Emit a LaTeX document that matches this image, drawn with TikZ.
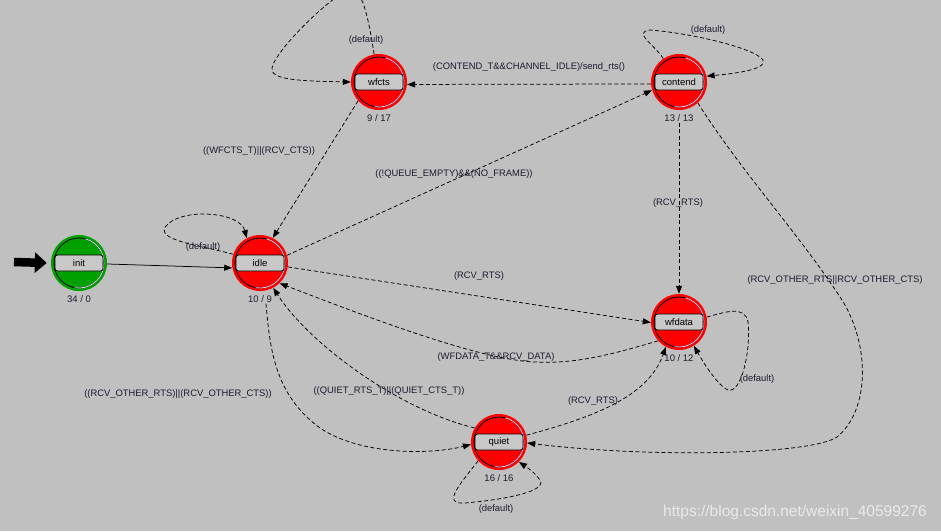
\documentclass[tikz,border=0pt]{standalone}
\usepackage{fontspec}
\setmainfont{Liberation Sans}
\usetikzlibrary{arrows.meta}
\definecolor{bg}{RGB}{192,192,192}
\definecolor{stred}{RGB}{255,0,0}
\definecolor{stgreen}{RGB}{0,160,0}
\definecolor{boxfill}{RGB}{200,200,200}
\definecolor{lbl}{RGB}{28,28,48}
\definecolor{hilite}{RGB}{225,205,245}
\definecolor{wm}{RGB}{234,234,234}
\tikzset{
  state/.style={circle, minimum size=56pt, inner sep=0pt, fill=stred, draw=none},
  namebox/.style={draw=black, line width=0.8pt, rounded corners=2.5pt, fill=boxfill, minimum width=48pt, minimum height=16pt, inner sep=0pt, font=\fontsize{9.5}{11}\selectfont, text=black},
  count/.style={font=\fontsize{9.5}{11}\selectfont, text=lbl, inner sep=1pt},
  trans/.style={draw=black, line width=0.75pt, dash pattern=on 4pt off 2.5pt, -{Triangle[length=8pt,width=6pt]}},
  cond/.style={font=\fontsize{9.4}{11}\selectfont, text=lbl, inner sep=0pt},
}
\newcommand{\drawstate}[5]{%
  \node[state, fill=#3] (#1) at (#2) {};
  \draw[black, line width=0.8pt] (#2) circle[radius=25pt];
  \draw[hilite, line width=0.8pt] ([shift={(-100:25pt)}]#2) arc[start angle=-100, end angle=75, radius=25pt];
  \node[namebox] (#1box) at (#2) {#4};
  \node[count] (#1cnt) at ([yshift=-36pt]#2) {#5};
}
\begin{document}
\begin{tikzpicture}[x=1pt, y=-1pt]
\useasboundingbox (0,0) rectangle (941,531);
\fill[bg] (0,0) rectangle (941,531);
\clip (0,0) rectangle (941,531);

\drawstate{init}{79,263}{stgreen}{init}{34 / 0}
\drawstate{idle}{260,263}{stred}{idle}{10 / 9}
\drawstate{wfcts}{379,82}{stred}{wfcts}{9 / 17}
\drawstate{contend}{679,82}{stred}{contend}{13 / 13}
\drawstate{wfdata}{679,322}{stred}{wfdata}{10 / 12}
\drawstate{quiet}{499,442}{stred}{quiet}{16 / 16}

% initial arrow
\coordinate (entry) at (14,262);
\draw[line width=8.5pt, -{Triangle[length=12pt,width=20pt]}] (entry) -- ([xshift=-4pt]init.west);

% transitions
\draw[trans, solid] (init.-2) -- (idle.190);
\draw[trans] (idle.162) .. controls (200,245) and (150,240) .. (168,224) .. controls (185,208) and (240,212) .. (idle.118);
\draw[trans] (wfcts.100) .. controls (368,15) and (362,-12) .. (350,-10) .. controls (335,-8) and (275,50) .. (272,68) .. controls (270,80) and (300,81) .. (wfcts.180);
\draw[trans] (contend.184) -- (wfcts.-5);
\draw[trans] (contend.124) .. controls (655,45) and (632,32) .. (650,30) .. controls (690,33) and (755,48) .. (763,60) .. controls (768,70) and (730,74) .. (contend.12);
\draw[trans] (wfcts.222) -- (idle.63);
\draw[trans] (idle.16) -- (contend.197);
\draw[trans] (contendcnt.south) -- (wfdata.north);
\draw[trans] (contend.-48) .. controls (740,170) and (800,235) .. (842,300) .. controls (870,345) and (870,410) .. (837,437) .. controls (810,455) and (650,458) .. (quiet.-2);
\draw[trans] (idle.-8) -- (wfdata.181);
\draw[trans] (wfdata.222) .. controls (610,355) and (575,364) .. (535,362) .. controls (480,360) and (370,318) .. (idle.-46);
\draw[trans] (wfdata.10) .. controls (725,312) and (745,305) .. (748,322) .. controls (751,348) and (742,394) .. (728,390) .. controls (718,386) and (703,362) .. (wfdata.-58);
\draw[trans] ([xshift=6pt]idlecnt.south) .. controls (270,350) and (275,395) .. (320,428) .. controls (360,455) and (430,455) .. (quiet.185);
\draw[trans] (quiet.150) .. controls (400,410) and (310,345) .. (idle.-62);
\draw[trans] (quiet.14) .. controls (590,418) and (648,398) .. (wfdata.-118);
\draw[trans] (quiet.222) .. controls (462,482) and (440,505) .. (465,503) .. controls (500,500) and (548,492) .. (540,480) .. controls (534,472) and (528,468) .. (quiet.-45);

% conditions
\node[cond] (c1) at (529,67) {(CONTEND\_T\&\&CHANNEL\_IDLE)/send\_rts()};
\node[cond] (c2) at (366,40) {(default)};
\node[cond] (c3) at (708,30) {(default)};
\node[cond] (c4) at (259,151) {((WFCTS\_T)||(RCV\_CTS))};
\node[cond] (c5) at (454,174) {((!QUEUE\_EMPTY)\&\&(NO\_FRAME))};
\node[cond] (c6) at (678,203) {(RCV\_RTS)};
\node[cond] (c7) at (835,280) {(RCV\_OTHER\_RTS||RCV\_OTHER\_CTS)};
\node[cond] (c8) at (479,276) {(RCV\_RTS)};
\node[cond] (c9) at (496,357) {(WFDATA\_T\&\&RCV\_DATA)};
\node[cond] (c10) at (757,379) {(default)};
\node[cond] (c11) at (178,394) {((RCV\_OTHER\_RTS)||(RCV\_OTHER\_CTS))};
\node[cond] (c12) at (389,391) {((QUIET\_RTS\_T)||(QUIET\_CTS\_T))};
\node[cond] (c13) at (593,401) {(RCV\_RTS)};
\node[cond] (c14) at (496,509) {(default)};
\node[cond] (c15) at (203,247) {(default)};

% watermark
\node[font=\fontsize{15.5}{18}\selectfont, text=wm, inner sep=0pt] (wmark) at (795,512) {https://blog.csdn.net/weixin\_40599276};
\end{tikzpicture}
\end{document}
